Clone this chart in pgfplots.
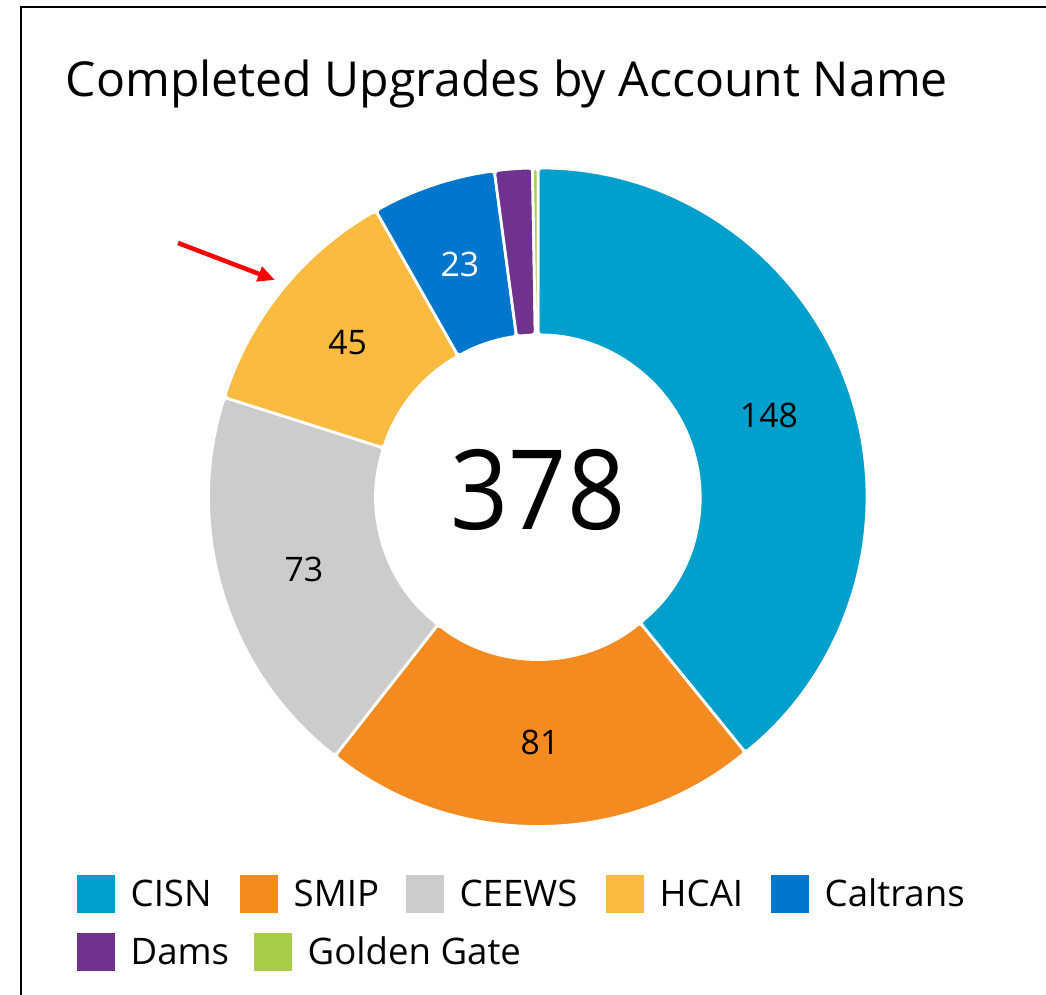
\documentclass[border=0pt]{standalone}
\usepackage{fontspec}
\setmainfont{Open Sans}
\newfontfamily\bignum[FakeStretch=0.92]{Open Sans}
\usepackage{pgfplots}
\usepackage{pgfplotstable}
\pgfplotsset{compat=1.18}
\usetikzlibrary{arrows.meta}

\definecolor{cisn}{RGB}{0,159,204}
\definecolor{smip}{RGB}{244,139,33}
\definecolor{ceews}{RGB}{204,204,204}
\definecolor{hcai}{RGB}{251,187,64}
\definecolor{caltrans}{RGB}{0,119,204}
\definecolor{dams}{RGB}{112,51,141}
\definecolor{golden}{RGB}{168,205,72}

\newcommand\titlefont{\fontsize{13.7}{15}\selectfont}
\newcommand\legfont{\fontsize{10.4}{12}\selectfont}
\newcommand\labfont{\fontsize{9.6}{11}\selectfont}
\newcommand\bigfont{\bignum\fontsize{31.5}{36}\selectfont}

% slices, clockwise from 12 o'clock
\pgfplotstableread[col sep=comma]{
name,value,color,lab
CISN,148,cisn,black
SMIP,81,smip,black
CEEWS,73,ceews,black
HCAI,45,hcai,black
Caltrans,23,caltrans,white
Dams,7,dams,black
Golden Gate,1,golden,black
}\slices

\def\total{378}
\def\rout{329}
\def\rin{162}
\def\rlab{245}

\begin{document}
\begin{tikzpicture}
\begin{axis}[
  x=0.01cm, y=0.01cm,
  xmin=-538, xmax=508,
  ymin=-498, ymax=497,
  hide axis,
  clip=false,
]
\addplot[draw=none, forget plot] coordinates {(-538,-498) (508,497)};

\gdef\cum{0}
\pgfplotsforeachungrouped \i in {0,...,6}{%
  \pgfplotstablegetelem{\i}{value}\of\slices \let\v\pgfplotsretval
  \pgfplotstablegetelem{\i}{color}\of\slices \let\c\pgfplotsretval
  \pgfplotstablegetelem{\i}{lab}\of\slices \let\lc\pgfplotsretval
  \pgfmathsetmacro\a{90-360*(\cum/\total)}
  \pgfmathsetmacro\cumnew{\cum+\v}
  \global\let\cum\cumnew
  \pgfmathsetmacro\b{90-360*(\cum/\total)}
  \pgfmathsetmacro\m{(\a+\b)/2}
  \pgfmathsetmacro\xo{\rout*cos(\a)}
  \pgfmathsetmacro\yo{\rout*sin(\a)}
  \pgfmathsetmacro\xi{\rin*cos(\b)}
  \pgfmathsetmacro\yi{\rin*sin(\b)}
  \pgfmathsetmacro\xm{\rlab*cos(\m)}
  \pgfmathsetmacro\ym{\rlab*sin(\m)}
  \edef\temp{\noexpand\fill[fill=\c, draw=white, line width=0.028cm,
      rounded corners=0.035cm]
    (axis cs:\xo,\yo) arc[start angle=\a, end angle=\b, radius=\rout*0.01cm]
    -- (axis cs:\xi,\yi) arc[start angle=\b, end angle=\a, radius=\rin*0.01cm]
    -- cycle;}
  \temp
  \ifnum\v>10
    \edef\temp{\noexpand\node[text=\lc, font=\noexpand\labfont]
      at (axis cs:\xm,\ym) {\v};}
    \temp
  \fi
}

% total in the hole
\node[font=\bigfont] at (axis cs:0,7) {378};

% title
\node[anchor=base west, font=\titlefont, inner sep=0pt]
  at (axis cs:-473,400) {Completed Upgrades by Account Name};

% legend
\newcommand\legitem[4]{%
  \fill[#3] (axis cs:#1,#2) rectangle (axis cs:#1+38,#2+38);
  \node[anchor=base west, font=\legfont, inner sep=0pt]
    at (axis cs:#1+53,#2+6) {#4};}
\legitem{-461}{-416}{cisn}{CISN}
\legitem{-298}{-416}{smip}{SMIP}
\legitem{-132}{-416}{ceews}{CEEWS}
\legitem{68}{-416}{hcai}{HCAI}
\legitem{233}{-416}{caltrans}{Caltrans}
\legitem{-461}{-474}{dams}{Dams}
\legitem{-284}{-474}{golden}{Golden Gate}

% annotation arrow
\draw[red, line width=0.045cm, -{Triangle[length=0.17cm, width=0.15cm]}]
  (axis cs:-360,254) -- (axis cs:-263,217);

% frame
\draw[black, line width=0.022cm]
  (axis cs:-517,-498) -- (axis cs:-517,490) -- (axis cs:508,490);
\end{axis}
\pgfresetboundingbox
\path (current axis.south west) rectangle (current axis.north east);
\end{tikzpicture}
\end{document}
